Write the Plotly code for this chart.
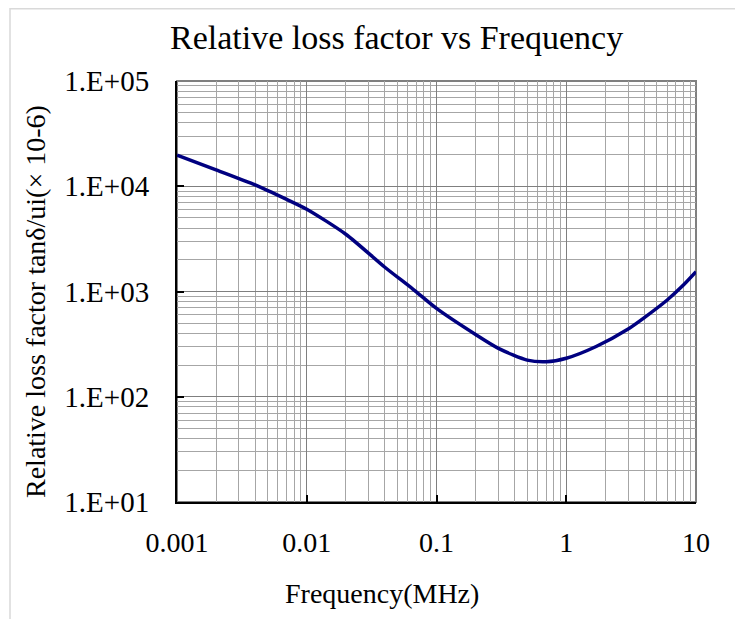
import plotly.graph_objects as go

# Data
freq_mhz = [0.001, 0.002, 0.004, 0.007, 0.01, 0.02, 0.04, 0.066, 0.1, 0.2, 0.3, 0.5, 0.7, 1.0, 1.7, 3.0, 4.0, 6.0, 8.0, 10.0]
loss_factor = [19800, 14300, 10300, 7500, 6050, 3500, 1700, 1050, 690, 390, 288, 223, 215, 232, 300, 440, 565, 830, 1150, 1540]

x_tick_vals = [0.001, 0.01, 0.1, 1, 10]
x_tick_text = ["0.001", "0.01", "0.1", "1", "10"]
y_tick_vals = [1e1, 1e2, 1e3, 1e4, 1e5]
y_tick_text = ["1.E+01", "1.E+02", "1.E+03", "1.E+04", "1.E+05"]

title_text = "Relative loss factor vs Frequency"
x_title = "Frequency(MHz)"
y_title = "Relative loss factor tanδ/ui(× 10-6)"

FONT = "Liberation Serif"
OFF = 8  # default page body margin
W, H = 743 - OFF, 619 - OFF
L, R, T, B = 177 - OFF, 47, 81 - OFF, 117
pw, ph = W - L - R, H - T - B


def px_x(p):
    return (p - OFF - L) / pw


def px_y(p):
    return (H - B - (p - OFF)) / ph


x_minor = [m * 10 ** e for e in range(-3, 1) for m in range(2, 10)]
y_minor = [m * 10 ** e for e in range(1, 5) for m in range(2, 10)]

fig = go.Figure()
fig.add_trace(go.Scatter(
    x=freq_mhz, y=loss_factor, mode="lines",
    line=dict(color="#000080", width=3.5, shape="spline", smoothing=0.7),
    showlegend=False, hoverinfo="x+y",
))

fig.update_layout(
    width=W, height=H,
    margin=dict(l=L, r=R, t=T, b=B),
    paper_bgcolor="white", plot_bgcolor="white",
    font=dict(family=FONT, color="black", size=28),
    showlegend=False,
)

fig.update_xaxes(
    type="log", range=[-3, 1],
    tickmode="array", tickvals=x_tick_vals, ticktext=x_tick_text,
    tickfont=dict(family=FONT, size=28, color="black"),
    ticks="inside", ticklen=7, tickcolor="black", tickwidth=1.5,
    showgrid=True, gridcolor="#7f7f7f", gridwidth=1,
    minor=dict(tickvals=x_minor, showgrid=True, gridcolor="#a6a6a6", gridwidth=1, ticks=""),
    showline=True, linecolor="black", linewidth=2,
    ticklabelstandoff=14, zeroline=False,
)
fig.update_yaxes(
    type="log", range=[1, 5],
    tickmode="array", tickvals=y_tick_vals, ticktext=y_tick_text,
    tickfont=dict(family=FONT, size=29, color="black"),
    ticks="inside", ticklen=7, tickcolor="black", tickwidth=1.5,
    showgrid=True, gridcolor="#7f7f7f", gridwidth=1,
    minor=dict(tickvals=y_minor, showgrid=True, gridcolor="#a6a6a6", gridwidth=1, ticks=""),
    showline=True, linecolor="black", linewidth=2,
    ticklabelstandoff=20, zeroline=False,
)

# Plot-area border (gray top/right like Excel)
fig.add_shape(type="rect", xref="paper", yref="paper", x0=0, x1=1, y0=0, y1=1,
              line=dict(color="#808080", width=2), layer="below")
# Outer chart border
fig.add_shape(type="rect", xref="paper", yref="paper",
              x0=px_x(10), x1=px_x(738), y0=px_y(640), y1=px_y(8.8),
              line=dict(color="#d9d9d9", width=1.5), layer="below")

fig.add_annotation(text=title_text, xref="paper", yref="paper",
                   x=px_x(396), y=px_y(37), showarrow=False,
                   font=dict(family=FONT, size=34, color="black"),
                   xanchor="center", yanchor="middle")
fig.add_annotation(text=x_title, xref="paper", yref="paper",
                   x=px_x(382), y=px_y(593), showarrow=False,
                   font=dict(family=FONT, size=28, color="black"),
                   xanchor="center", yanchor="middle")
fig.add_annotation(text=y_title, xref="paper", yref="paper",
                   x=px_x(35), y=px_y(302), showarrow=False, textangle=-90,
                   font=dict(family=FONT, size=28, color="black"),
                   xanchor="center", yanchor="middle")

fig.write_html("out.html")
